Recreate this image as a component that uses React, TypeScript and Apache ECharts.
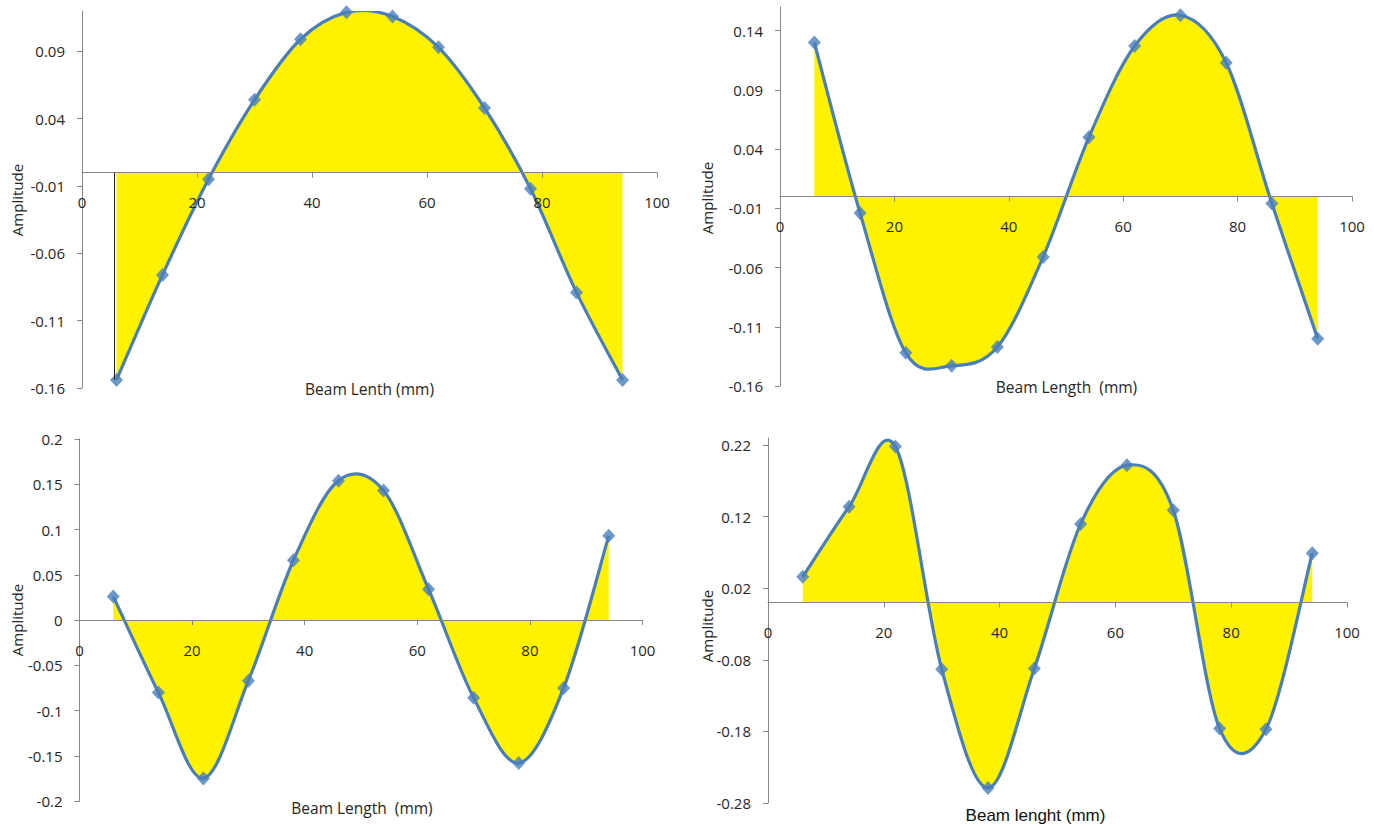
import React, { useEffect, useRef } from "react";
import * as echarts from "echarts";

// Beam positions (mm)
const beamX = [6, 14, 22, 30, 38, 46, 54, 62, 70, 78, 86, 94];

// Mode shapes (amplitude)
const mode1 = [-0.154, -0.076, -0.005, 0.054, 0.099, 0.119, 0.116, 0.093, 0.048, -0.012, -0.089, -0.154];
const mode2 = [0.130, -0.014, -0.132, -0.143, -0.127, -0.051, 0.050, 0.127, 0.153, 0.113, -0.006, -0.120];
const mode3 = [0.026, -0.080, -0.175, -0.067, 0.066, 0.154, 0.143, 0.034, -0.086, -0.158, -0.075, 0.093];
const mode4 = [0.036, 0.134, 0.218, -0.093, -0.259, -0.092, 0.110, 0.192, 0.129, -0.176, -0.177, 0.069];

// Y tick labels
const yTicks1 = [-0.16, -0.11, -0.06, -0.01, 0.04, 0.09];
const yTicks2 = [-0.16, -0.11, -0.06, -0.01, 0.04, 0.09, 0.14];
const yTicks3 = [-0.2, -0.15, -0.1, -0.05, 0, 0.05, 0.1, 0.15, 0.2];
const yTicks4 = [-0.28, -0.18, -0.08, 0.02, 0.12, 0.22];

// X tick labels
const xTicks = [0, 20, 40, 60, 80, 100];

// Titles
const xTitles = ["Beam Lenth (mm)", "Beam Length  (mm)", "Beam Length  (mm)", "Beam lenght (mm)"];
const yTitle = "Amplitude";

const BLUE = "#4A7EBB";
const YELLOW = "#FFF200";
const AXIS = "#868686";
const TEXT = "#262626";
const FONT = "'Open Sans', Lato, sans-serif";

export default function App() {
  const ref = useRef<HTMLDivElement>(null);

  useEffect(() => {
    if (!ref.current) return;
    const chart = echarts.init(ref.current, null, { renderer: "svg" });

    const panels = [
      { grid: { left: 82, top: 11, width: 575, height: 377 }, min: -0.16, max: 0.12, ticks: yTicks1, data: mode1 },
      { grid: { left: 780, top: 7, width: 572, height: 379 }, min: -0.16, max: 0.16, ticks: yTicks2, data: mode2 },
      { grid: { left: 79.5, top: 439, width: 563, height: 362 }, min: -0.2, max: 0.2, ticks: yTicks3, data: mode3 },
      { grid: { left: 768, top: 438, width: 579, height: 365 }, min: -0.28, max: 0.23, ticks: yTicks4, data: mode4 },
    ];

    const fmt = (v: number) => String(Math.round(v * 100) / 100);

    // Smooth curve (Catmull-Rom style, like the spreadsheet's smoothed line) through data points
    const makeRender = (vals: number[]) => (params: any, api: any) => {
      if (params.dataIndex !== 0) return null;
      const pts = beamX.map((x, k) => api.coord([x, vals[k]]));
      const z0 = api.coord([0, 0])[1];
      const n = pts.length;
      let curve = "";
      for (let i = 0; i < n - 1; i++) {
        const p0 = pts[Math.max(i - 1, 0)];
        const p1 = pts[i];
        const p2 = pts[i + 1];
        const p3 = pts[Math.min(i + 2, n - 1)];
        const c1x = p1[0] + (p2[0] - p0[0]) / 6;
        const c1y = p1[1] + (p2[1] - p0[1]) / 6;
        const c2x = p2[0] - (p3[0] - p1[0]) / 6;
        const c2y = p2[1] - (p3[1] - p1[1]) / 6;
        curve += ` C${c1x},${c1y} ${c2x},${c2y} ${p2[0]},${p2[1]}`;
      }
      const line = `M${pts[0][0]},${pts[0][1]}` + curve;
      const area = `M${pts[0][0]},${z0} L${pts[0][0]},${pts[0][1]}` + curve + ` L${pts[n - 1][0]},${z0} Z`;
      return {
        type: "group",
        children: [
          { type: "path", shape: { pathData: area }, style: { fill: YELLOW, stroke: "none" } },
          { type: "path", shape: { pathData: line }, style: { fill: "none", stroke: BLUE, lineWidth: 3.2 } },
        ],
      };
    };

    const series: any[] = [];
    panels.forEach((p, i) => {
      series.push({
        type: "custom",
        xAxisIndex: i,
        yAxisIndex: i,
        clip: true,
        silent: true,
        data: beamX.map((x, k) => [x, p.data[k]]),
        encode: { x: 0, y: 1 },
        renderItem: makeRender(p.data),
        z: 2,
      });
      series.push({
        type: "scatter",
        xAxisIndex: i,
        yAxisIndex: i,
        data: beamX.map((x, k) => [x, p.data[k]]),
        symbol: "diamond",
        symbolSize: [13, 14],
        itemStyle: { color: BLUE },
        z: 4,
        markLine:
          i === 0
            ? {
                silent: true,
                symbol: "none",
                label: { show: false },
                lineStyle: { color: "#222222", width: 1, type: "solid" },
                data: [[{ coord: [beamX[0] - 0.4, 0] }, { coord: [beamX[0] - 0.4, p.data[0]] }]],
              }
            : undefined,
      });
    });

    const option: any = {
      animation: false,
      backgroundColor: "#ffffff",
      grid: panels.map((p) => ({ ...p.grid, containLabel: false })),
      xAxis: panels.map((p, i) => ({
        type: "value",
        gridIndex: i,
        min: 0,
        max: 100,
        interval: 20,
        position: "bottom",
        offset: -(p.grid.height * (0 - p.min)) / (p.max - p.min),
        axisLine: { show: true, onZero: false, lineStyle: { color: AXIS, width: 1 } },
        axisTick: { show: true, length: 5, lineStyle: { color: AXIS } },
        axisLabel: {
          show: true,
          margin: 22,
          color: TEXT,
          fontFamily: FONT,
          fontSize: 15,
          customValues: xTicks,
          formatter: (v: number) => String(v),
        },
        splitLine: { show: false },
        z: 3,
      })),
      yAxis: panels.map((p, i) => ({
        type: "value",
        gridIndex: i,
        min: p.min,
        max: p.max,
        axisLine: { show: true, onZero: false, lineStyle: { color: AXIS, width: 1 } },
        axisTick: { show: true, length: 5, lineStyle: { color: AXIS }, customValues: p.ticks },
        axisLabel: {
          show: true,
          margin: 17,
          color: TEXT,
          fontFamily: FONT,
          fontSize: 15,
          customValues: p.ticks,
          formatter: fmt,
        },
        splitLine: { show: false },
      })),
      series,
      graphic: [
        { type: "text", x: 369.5, y: 389, style: { text: xTitles[0], font: `15.5px ${FONT}`, fill: TEXT, textAlign: "center", textVerticalAlign: "middle" } },
        { type: "text", x: 1066.5, y: 386.5, style: { text: xTitles[1], font: `15.5px ${FONT}`, fill: TEXT, textAlign: "center", textVerticalAlign: "middle" } },
        { type: "text", x: 362, y: 808, style: { text: xTitles[2], font: `15.5px ${FONT}`, fill: TEXT, textAlign: "center", textVerticalAlign: "middle" } },
        { type: "text", x: 1035.5, y: 815.5, style: { text: xTitles[3], font: `17px 'Liberation Sans', Arial, sans-serif`, fill: "#111111", textAlign: "center", textVerticalAlign: "middle" } },
        { type: "text", x: 16.7, y: 200, rotation: Math.PI / 2, style: { text: yTitle, font: `15px ${FONT}`, fill: TEXT, textAlign: "center", textVerticalAlign: "middle" } },
        { type: "text", x: 706.7, y: 198, rotation: Math.PI / 2, style: { text: yTitle, font: `15px ${FONT}`, fill: TEXT, textAlign: "center", textVerticalAlign: "middle" } },
        { type: "text", x: 16.7, y: 620, rotation: Math.PI / 2, style: { text: yTitle, font: `15px ${FONT}`, fill: TEXT, textAlign: "center", textVerticalAlign: "middle" } },
        { type: "text", x: 706.7, y: 626, rotation: Math.PI / 2, style: { text: yTitle, font: `15px ${FONT}`, fill: TEXT, textAlign: "center", textVerticalAlign: "middle" } },
      ],
    };

    chart.setOption(option);
    return () => chart.dispose();
  }, []);

  return (
    <div
      ref={ref}
      style={{ position: "absolute", left: 0, top: 0, width: 1374, height: 826, background: "#fff" }}
    />
  );
}
